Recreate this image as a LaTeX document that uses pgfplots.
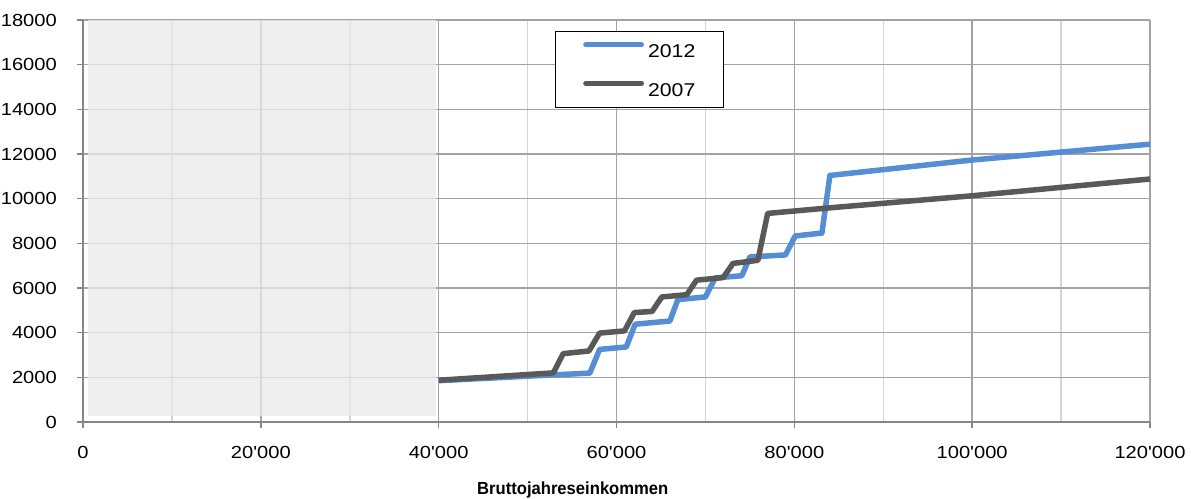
\documentclass[border=0pt]{standalone}
\usepackage{pgfplots}
\pgfplotsset{compat=1.18}
\usepackage{fontspec}
\setmainfont{Liberation Sans}[Ligatures=TeXOff]
\newfontfamily\tickfont{Liberation Sans}[Ligatures=TeXOff, FakeStretch=1.15]
\newfontfamily\labfont{Liberation Sans}[Ligatures=TeXOff, FakeStretch=0.95]
\usetikzlibrary{calc}
\definecolor{blue12}{RGB}{85,142,213}
\definecolor{gray07}{RGB}{89,89,89}
\definecolor{shade}{RGB}{234,234,234}
\definecolor{gridmaj}{RGB}{163,163,163}
\definecolor{gridmin}{RGB}{212,212,212}
\definecolor{axgray}{RGB}{134,134,134}

\pgfplotstableread{
x y
40000 1850
57000 2190
58100 3250
61100 3360
62100 4380
66000 4520
66900 5480
70000 5600
71100 6450
74100 6550
75000 7390
79000 7480
80100 8330
83100 8460
84000 11040
100000 11730
120000 12440
}\datatwelve

\pgfplotstableread{
x y
40000 1870
52900 2200
54000 3060
56900 3180
58100 3980
60900 4080
62000 4900
64000 4950
65100 5600
67900 5700
69000 6350
72000 6470
73100 7100
75900 7240
77000 9340
84000 9590
100000 10130
120000 10880
}\dataseven

\begin{document}
\begin{tikzpicture}
\begin{axis}[
  name=ax,
  scale only axis,
  width=1067pt, height=402pt,
  xmin=0, xmax=120000, ymin=0, ymax=18000,
  scaled ticks=false,
  axis x line*=bottom, axis y line*=left,
  axis line style={draw=axgray, line width=2pt},
  xtick={0,20000,40000,60000,80000,100000,120000},
  xticklabels={0,20'000,40'000,60'000,80'000,100'000,120'000},
  minor xtick={10000,30000,50000,70000,90000,110000},
  ytick={0,2000,4000,6000,8000,10000,12000,14000,16000,18000},
  yticklabels={0,2000,4000,6000,8000,10000,12000,14000,16000,18000},
  tick align=outside,
  major tick length=6pt,
  minor tick length=0pt,
  tick style={draw=axgray, line width=1.5pt},
  xmajorgrids, ymajorgrids, xminorgrids,
  major grid style={draw=gridmaj, line width=1.5pt},
  minor grid style={draw=gridmin, line width=1.5pt},
  ticklabel style={font=\tickfont\fontsize{17.5}{20}\selectfont, text=black},
  yticklabel style={inner sep=0pt, anchor=east, xshift=-20pt},
  xticklabel style={inner sep=0pt, anchor=north, yshift=-18pt},
  xlabel={\labfont\bfseries\fontsize{17.5}{20}\selectfont Bruttojahreseinkommen},
  xlabel style={at={(axis description cs:0.459,0)}, anchor=north, inner sep=0pt, yshift=-60pt},
  clip=false,
  legend style={at={(axis description cs:0.442,0.973)}, anchor=north west,
    draw=black, line width=1.2pt, fill=white,
    inner xsep=28pt, inner ysep=11pt, row sep=23pt,
    nodes={inner sep=0pt, text height=13pt, text depth=0pt, font=\tickfont\fontsize{18.5}{20}\selectfont}},
  legend cell align=left,
  legend image code/.code={\draw[#1, line cap=round, line width=4.8pt] (0pt,6.5pt) -- (56pt,6.5pt);},
  every axis plot/.append style={line join=round},
]
\addplot[draw=none, fill=shade, fill opacity=0.77, forget plot]
  coordinates {(600,250) (39700,250) (39700,18000) (600,18000)} -- cycle;
\addplot[blue12, line width=5.5pt] table[x=x,y=y] {\datatwelve};
\addlegendentry{\hspace{4pt}2012}
\addplot[gray07, line width=5.5pt] table[x=x,y=y] {\dataseven};
\addlegendentry{\hspace{4pt}2007}
\end{axis}
\pgfresetboundingbox
\path ($(ax.south west)+(-83pt,-77pt)$) rectangle ($(ax.north east)+(41pt,20pt)$);
\end{tikzpicture}
\end{document}
